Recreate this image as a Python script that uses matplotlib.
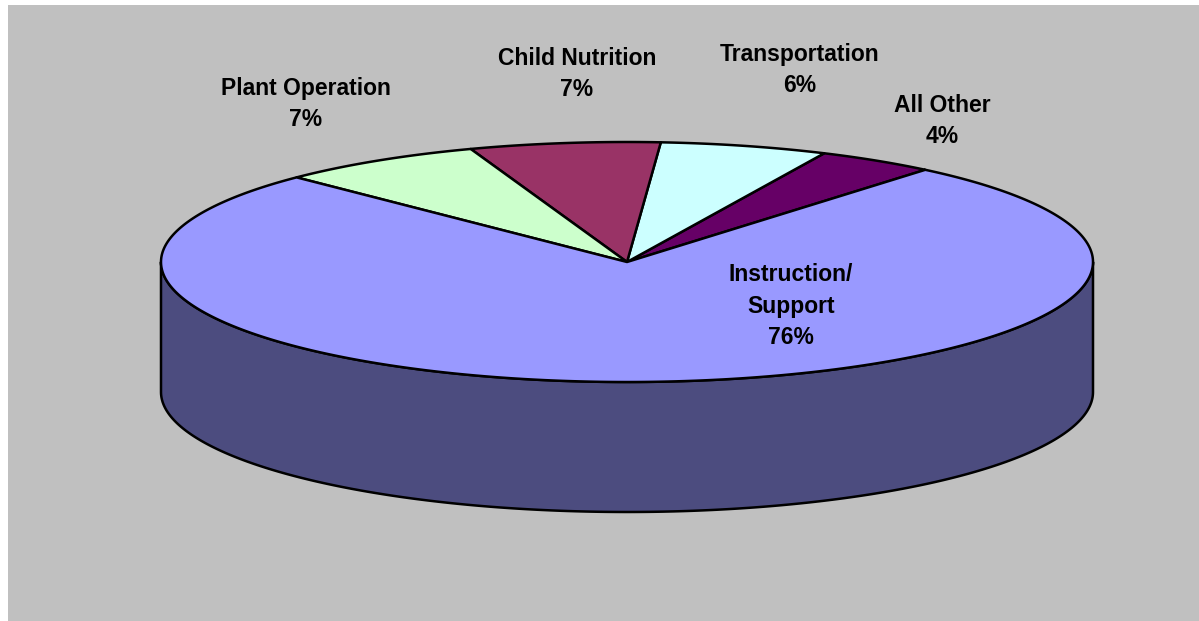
import numpy as np
import matplotlib
matplotlib.use("Agg")
import matplotlib.pyplot as plt
from matplotlib.patches import Polygon

# ---- data ----
categories = ["All Other", "Transportation", "Child Nutrition", "Plant Operation", "Instruction/\nSupport"]
values = [4.1, 5.8, 6.6, 7.1, 76.4]
top_colors = ["#660066", "#CCFFFF", "#993366", "#CCFFCC", "#9999FF"]
side_colors = ["#330033", "#667F7F", "#4C1933", "#667F66", "#4C4C7F"]

# ---- layout ----
W, H = 1199, 621
cx, cy = 627, 262
rx, ry = 466, 120
depth = 130
start_angle = 50.2  # degrees, counterclockwise
label_pos = {
    "All Other": (942, 121),
    "Transportation": (800, 70),
    "Child Nutrition": (577, 74),
    "Plant Operation": (306, 104),
    "Instruction/\nSupport": (791, 306),
}

fig = plt.figure(figsize=(W / 100, H / 100), dpi=100)
fig.patch.set_facecolor("white")
ax = fig.add_axes([0, 0, 1, 1])
ax.set_xlim(0, W)
ax.set_ylim(H, 0)
ax.axis("off")
ax.add_patch(plt.Rectangle((8, 5), W - 8, H - 5, facecolor="#C0C0C0", edgecolor="none", zorder=0))

def pt(theta_deg, dy=0.0):
    t = np.radians(theta_deg)
    return cx + rx * np.cos(t), cy - ry * np.sin(t) + dy

total = sum(values)
angles = []
a = start_angle
for v in values:
    span = 360.0 * v / total
    angles.append((a, a + span))
    a += span

lw = 1.8
# side walls (front half: 180..360 deg)
for (a0, a1), sc in zip(angles, side_colors):
    for shift in (0, 360, -360):
        s0, s1 = a0 + shift, a1 + shift
        lo, hi = max(s0, 180), min(s1, 360)
        if hi > lo:
            th = np.linspace(lo, hi, 300)
            top = [pt(t) for t in th]
            bot = [pt(t, depth) for t in th[::-1]]
            ax.add_patch(Polygon(top + bot, closed=True, facecolor=sc,
                                 edgecolor="black", linewidth=lw, zorder=2, joinstyle="round"))

# top faces
for (a0, a1), tc in zip(angles, top_colors):
    th = np.linspace(a0, a1, 400)
    poly = [(cx, cy)] + [pt(t) for t in th]
    ax.add_patch(Polygon(poly, closed=True, facecolor=tc, edgecolor="black",
                         linewidth=lw, zorder=3, joinstyle="round"))

for cat, v in zip(categories, values):
    x, y = label_pos[cat]
    pct = int(round(100 * v / total))
    ax.text(x, y, f"{cat}\n{pct}%", ha="center", va="center", fontsize=16.5,
            fontweight="bold", family="Liberation Sans", linespacing=1.45,
            color="black", zorder=5)

fig.savefig("out.png", dpi=100, facecolor=fig.get_facecolor())
